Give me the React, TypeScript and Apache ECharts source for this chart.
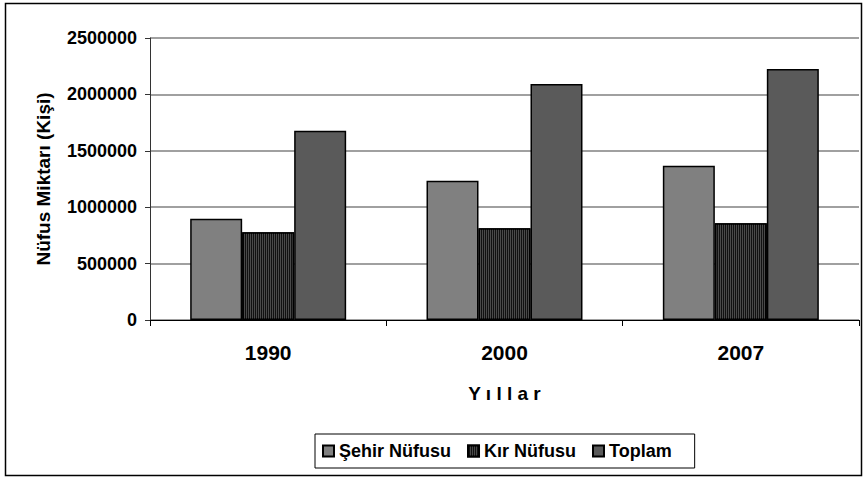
import React, { useEffect, useRef } from "react";
import * as echarts from "echarts";

const categories = ["1990", "2000", "2007"];
const sehirNufusu = [898000, 1235000, 1368000];
const kirNufusu = [777000, 813000, 857000];
const toplam = [1678000, 2092000, 2225000];
const seriesNames = ["Şehir Nüfusu", "Kır Nüfusu", "Toplam"];

const FONT = "'Liberation Sans', Arial, sans-serif";

export default function App() {
  const ref = useRef<HTMLDivElement>(null);
  useEffect(() => {
    if (!ref.current) return;
    const chart = echarts.init(ref.current, null, { renderer: "svg" });
    const barBase = {
      type: "bar",
      barGap: "0%",
      barCategoryGap: "34%",
      itemStyle: { borderColor: "#000", borderWidth: 1.5 },
    };
    chart.setOption({
      animation: false,
      backgroundColor: "#fff",
      textStyle: { fontFamily: FONT },
      graphic: [
        {
          type: "rect",
          shape: { x: 5.5, y: 3.5, width: 856, height: 472 },
          style: { fill: "none", stroke: "#000", lineWidth: 1.5 },
          silent: true,
        },
      ],
      grid: { left: 150, right: 6, top: 38, bottom: 159 },
      legend: {
        top: 434,
        left: 315,
        data: seriesNames,
        itemWidth: 11,
        itemHeight: 11,
        itemGap: 16,
        padding: [8, 23, 8, 7],
        borderColor: "#000",
        borderWidth: 1,
        icon: "rect",
        textStyle: { fontFamily: FONT, fontWeight: "bold", fontSize: 18, color: "#000" },
      },
      xAxis: {
        type: "category",
        data: categories,
        name: "Y ı l l a r",
        nameLocation: "middle",
        nameGap: 64,
        nameTextStyle: { fontFamily: FONT, fontWeight: "bold", fontSize: 19, color: "#000" },
        axisLine: { lineStyle: { color: "#000", width: 1 } },
        axisTick: { show: true, length: 6, lineStyle: { color: "#000" } },
        axisLabel: { fontFamily: FONT, fontWeight: "bold", fontSize: 21, color: "#000", margin: 22 },
      },
      yAxis: {
        type: "value",
        min: 0,
        max: 2500000,
        interval: 500000,
        name: "Nüfus Miktarı (Kişi)",
        nameLocation: "middle",
        nameGap: 97,
        nameTextStyle: { fontFamily: FONT, fontWeight: "bold", fontSize: 19, color: "#000" },
        axisLine: { show: true, lineStyle: { color: "#333", width: 1 } },
        axisTick: { show: true, length: 5, lineStyle: { color: "#333" } },
        axisLabel: {
          fontFamily: FONT,
          fontWeight: "bold",
          fontSize: 18,
          color: "#000",
          margin: 13,
          formatter: (v: number) => String(v),
        },
        splitLine: { show: true, lineStyle: { color: "#808080", width: 1.5 } },
      },
      series: [
        { ...barBase, name: seriesNames[0], data: sehirNufusu, itemStyle: { ...barBase.itemStyle, color: "#808080" } },
        {
          ...barBase,
          name: seriesNames[1],
          data: kirNufusu,
          itemStyle: {
            ...barBase.itemStyle,
            color: "#111",
            decal: {
              symbol: "rect",
              symbolSize: 1,
              color: "#4a4a4a",
              dashArrayX: [1, 1],
              dashArrayY: [4, 0],
              rotation: 0,
            },
          },
        },
        { ...barBase, name: seriesNames[2], data: toplam, itemStyle: { ...barBase.itemStyle, color: "#5a5a5a" } },
      ],
    });
    return () => chart.dispose();
  }, []);
  return (
    <div
      ref={ref}
      style={{ position: "fixed", left: 0, top: 0, width: 865, height: 479 }}
    />
  );
}
